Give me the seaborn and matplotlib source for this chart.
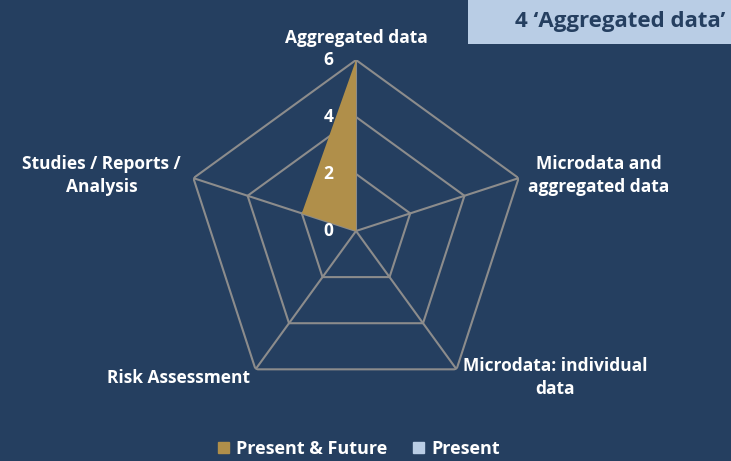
import numpy as np
import matplotlib.pyplot as plt
import matplotlib.patches as mpatches
import seaborn as sns

# chart data
categories = ["Aggregated data", "Microdata and\naggregated data", "Microdata: individual\ndata",
              "Risk Assessment", "Studies / Reports /\nAnalysis"]
present_future = [6, 0, 0, 0, 2]
present = [0, 0, 0, 0, 0]
r_ticks = [0, 2, 4, 6]
title = "4 \u2018Aggregated data\u2019"

bg = "#253F60"
gold = "#B08F4A"
light = "#B9CDE5"
grid_col = "#8C8C8C"

sns.set_theme(style="white")
plt.rcParams["font.family"] = ["Open Sans", "DejaVu Sans"]
plt.rcParams["font.weight"] = "bold"

fig = plt.figure(figsize=(7.31, 4.61), dpi=100)
fig.patch.set_facecolor(bg)

ax = fig.add_axes([0.2531, 0.128, 0.4679, 0.7419], projection="polar")
ax.set_facecolor("none")
ax.set_theta_offset(np.pi / 2)
ax.set_theta_direction(-1)
ax.set_ylim(0, 6)
ax.grid(False)
ax.spines["polar"].set_visible(False)
ax.set_xticks([])
ax.set_yticks([])

n = len(categories)
theta = np.linspace(0, 2 * np.pi, n, endpoint=False)
theta_c = np.append(theta, theta[0])

# polygon grid
for r in r_ticks[1:]:
    ax.plot(theta_c, [r] * (n + 1), color=grid_col, lw=1.5, zorder=1)
for t in theta:
    ax.plot([t, t], [0, r_ticks[-1]], color=grid_col, lw=1.5, zorder=1)

# series
vals = np.append(present_future, present_future[0])
ax.fill(theta_c, vals, color=gold, zorder=2, lw=0)
vals_p = np.append(present, present[0])
ax.fill(theta_c, vals_p, color=light, zorder=3, lw=0)

# radial tick labels
for r in r_ticks:
    ax.annotate(str(r), xy=(0, r), xytext=(-20, 0), textcoords="offset points",
                ha="center", va="center", color="white", fontsize=12.5, fontweight="bold")

# category labels
label_opts = [
    dict(xytext=(0, 16), ha="center", va="center"),
    dict(xytext=(7, 2), ha="left", va="center"),
    dict(xytext=(71, -6), ha="center", va="center"),
    dict(xytext=(-4, -6), ha="right", va="center"),
    dict(xytext=(-66, 2), ha="center", va="center"),
]
for t, lab, opt in zip(theta, categories, label_opts):
    ax.annotate(lab, xy=(t, r_ticks[-1]), textcoords="offset points", color="white",
                fontsize=12.5, fontweight="bold", multialignment="center",
                linespacing=1.35, annotation_clip=False, **opt)

# title box
fig.patches.append(mpatches.Rectangle((468 / 731, 1 - 44 / 461), 263 / 731, 44 / 461,
                                      transform=fig.transFigure, facecolor=light,
                                      edgecolor="none", zorder=0))
fig.text(725 / 731, 1 - 22 / 461, title, ha="right", va="center", color=bg,
         fontsize=16, fontweight="bold")

handles = [mpatches.Patch(color=gold, label="Present & Future"),
           mpatches.Patch(color=light, label="Present")]
leg = fig.legend(handles=handles, loc="center", bbox_to_anchor=(359 / 731, 12 / 461),
                 ncol=2, frameon=False, handlelength=0.6, handleheight=0.6,
                 handletextpad=0.4, columnspacing=1.4,
                 prop=dict(size=13, weight="bold"))
for txt in leg.get_texts():
    txt.set_color("white")

fig.savefig("out.png", dpi=100, facecolor=bg)
